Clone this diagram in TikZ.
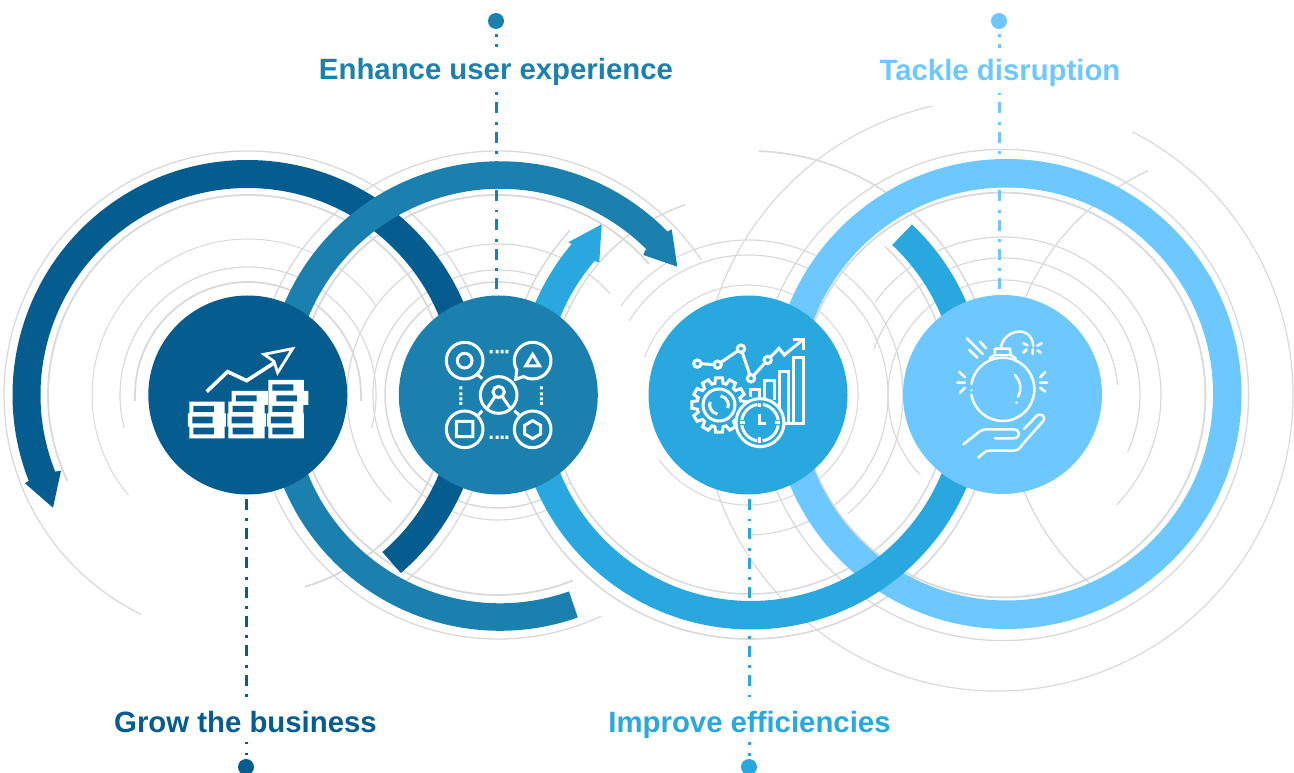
\documentclass[tikz,border=0pt]{standalone}
\usepackage{fontspec}
\setmainfont{Liberation Sans}
\definecolor{cA}{HTML}{055C8E}
\definecolor{cB}{HTML}{1B80AD}
\definecolor{cC}{HTML}{29A8E0}
\definecolor{cD}{HTML}{6CC8FF}
\definecolor{gr}{HTML}{D9D9D9}
\pgfdeclarelayer{arcsl}\pgfdeclarelayer{linesl}\pgfdeclarelayer{ringsl}
\pgfsetlayers{arcsl,linesl,ringsl,main}
\tikzset{
 hub/.style={circle,inner sep=0pt,minimum size=199pt,fill=#1},
 knob/.style={circle,inner sep=0pt,minimum size=16pt,fill=#1},
 lab/.style={anchor=base,inner sep=0pt,fill=white,text=#1,font=\fontsize{29.35}{30}\selectfont\bfseries,text height=33pt,text depth=10pt},
 stem/.style={draw=#1,line width=3pt,dash pattern=on 11pt off 8.5pt on 2.8pt off 7pt},
 ic/.style={draw=white,line width=3pt,line join=miter},
 icr/.style={draw=white,line width=2.5pt,line cap=round,line join=round},
}
\newcommand{\gra}[6][1]{\draw[gr,line width=#1pt] ({#2+#4*cos(#5)},{772-#3+#4*sin(#5)}) arc[start angle=#5,end angle=#6,radius=#4pt];}
\newcommand{\ringarc}[7]{\draw[#1,line width=#7pt] ({#2+#4*cos(#5)},{772-#3+#4*sin(#5)}) arc[start angle=#5,end angle=#6,radius=#4pt];}
\begin{document}
\begin{tikzpicture}[x=1pt,y=1pt]
\useasboundingbox (0,0) rectangle (1294,772);
% hubs, knobs, labels
\node[hub=cA] (n1) at (247.8,377) {};
\node[hub=cB] (n2) at (498.3,377) {};
\node[hub=cC] (n3) at (748,377) {};
\node[hub=cD] (n4) at (1002.5,377.5) {};
\node[knob=cB] (d2) at (496,751) {};
\node[knob=cD] (d4) at (999,751) {};
\node[knob=cA] (d1) at (246,5) {};
\node[knob=cC] (d3) at (749,5) {};
\node[lab=cB] (t2) at (496,692) {Enhance user experience};
\node[lab=cD] (t4) at (1000,691) {Tackle disruption};
\node[lab=cA] (t1) at (245.5,40) {Grow the business};
\node[lab=cC] (t3) at (749.5,40) {Improve efficiencies};
% grey arcs
\begin{pgfonlayer}{arcsl}
\gra[1.3]{248}{395}{244}{-52}{244}
\gra[1.8]{248}{395}{200}{-73.5}{205.5}
\gra[1]{248}{395}{156}{35}{220}
\gra[1.2]{248}{395}{128}{-15}{195}
\gra[1.8]{248}{395}{113}{-3}{183}
\gra[1.3]{498}{395}{244}{33.7}{295}
\gra[1.8]{498}{395}{200}{41}{292}
\gra[1.2]{498}{395}{151}{42}{225}
\gra[1.2]{498}{395}{125}{72}{295}
\gra[1.5]{498}{395}{113}{50}{310}
\gra[1.6]{750}{395}{244}{88}{-222.4}
\gra[1.5]{750}{394}{200}{47.6}{-251}
\gra[1.2]{748}{395}{155}{145}{-50}
\gra[1.2]{748}{395}{140}{148}{-90}
\gra[1.1]{748}{395}{110}{160}{-144}
\gra[1.3]{1003}{395}{245.6}{0}{360}
\gra[1.8]{1003}{395}{202.4}{0}{360}
\gra[1.2]{1003}{395}{158}{144}{-44}
\gra[1.2]{1003}{395}{137}{160.6}{-24.5}
\gra[1.2]{1003}{395}{115}{224}{5}
\gra[1.2]{997}{395}{296}{62.8}{-257.4}
\gra[1.3]{1254}{396}{249}{115.2}{229.4}
\end{pgfonlayer}
% stems
\begin{pgfonlayer}{linesl}
\draw[stem=cB,dash phase=6.6pt] (d2.center) -- (d2 |- n2.north);
\draw[stem=cD,dash phase=6.4pt] (d4.center) -- (d4 |- n4.north);
\draw[stem=cA,dash phase=25.3pt] (d1 |- n1.south) -- (d1.center);
\draw[stem=cC,dash phase=24.8pt] (d3 |- n3.south) -- (d3.center);
\end{pgfonlayer}
% thick rings
\begin{pgfonlayer}{ringsl}
\draw[cD,line width=28.5pt] (1006.5,378) circle[radius=220.75pt];
\ringarc{cC}{751}{395}{220.25}{46.7}{-221.1}{28.5}
\fill[cC] (568.3,529.7) -- (601.7,547.7) -- (599.3,509.7) -- (594,511) -- (572,528) -- cycle;
\ringarc{cA}{247.5}{395}{221}{-49.3}{202}{28}
\fill[cA] (25,288.7) -- (29,291.3) -- (55,300.3) -- (61,301.3) -- (53,264.3) -- cycle;
\ringarc{cB}{500}{396}{221}{-70.6}{-315.8}{27.5}
\fill[cB] (671.7,542.7) -- (667.3,540.3) -- (645,521.3) -- (643.3,517) -- (677.3,505.3) -- cycle;
\end{pgfonlayer}
% icon 1
\begin{scope}[shift={(140,482)},x=0.3333pt,y=-0.3333pt]
\fill[white] (148,335) rectangle (254,370) (144,370) rectangle (258,410) (148,410) rectangle (254,445);
\fill[white] (265,335) rectangle (374,370) (262,370) rectangle (378,410) (265,410) rectangle (374,445) (275,303) rectangle (384,345);
\fill[white] (385,270) rectangle (492,303) (385,303) rectangle (505,345) (385,345) rectangle (490,370) (381,370) rectangle (492,410) (385,410) rectangle (492,445);
\fill[cA] (160,348) rectangle (222,366) (157,380) rectangle (218,400) (160,413) rectangle (222,433);
\fill[cA] (288,316) rectangle (350,334) (278,348) rectangle (340,366) (275,380) rectangle (337,400) (278,413) rectangle (340,433);
\fill[cA] (397,283) rectangle (460,302) (409,316) rectangle (471,334) (397,348) rectangle (460,366) (393,380) rectangle (455,400) (397,413) rectangle (460,433);
\draw[white,line width=3.6pt] (200,305) -- (263,245) -- (320,272) -- (410,214);
\draw[white,line width=2.8pt,fill=cA] (458,176) -- (372,193) -- (402,214) -- (413,248) -- cycle;
\end{scope}
% icon 2
\begin{scope}[shift={(395,482)},x=0.3333pt,y=-0.3333pt]
\draw[ic] (209,212) circle[radius=55] (209,212) circle[radius=22];
\draw[ic] (209,418) circle[radius=55] (184,394) rectangle (234,440);
\draw[ic] (413,418) circle[radius=55] (413,392) -- (437,406) -- (437,432) -- (413,446) -- (389,432) -- (389,406) -- cycle;
\draw[ic] ({413+55*cos(150)},{212+55*sin(150)}) arc[start angle=150,end angle=480,radius=55] -- (362,268) -- cycle;
\draw[ic] (392,228) -- (434,228) -- (413,193) -- cycle;
\draw[ic] (311,315) circle[radius=55];
\draw[ic] (311,306) circle[radius=17] (300,320) -- (277,354) (322,320) -- (345,354);
\draw[ic] (245,252) -- (262,266) (250,375) -- (262,362) (358,362) -- (372,375);
\fill[white] \foreach \u in {284,302,317,331} {(\u,180) rectangle ++(9,10) (\u,437) rectangle ++(9,10)};
\fill[white] \foreach \v in {289,307,322,336} {(193,\v) rectangle ++(9,9) (435,\v) rectangle ++(9,9)};
\end{scope}
% icon 3
\begin{scope}[shift={(645,482)},x=0.3333pt,y=-0.3333pt]
\draw[ic] (157,221) -- (218,224) -- (288,176) -- (318,265) -- (368,210) -- (402,175) -- (418,195) -- (470,152);
\draw[ic] (445,150) -- (475,150) -- (475,180);
\foreach \p in {(157,221),(218,224),(288,176),(318,265),(368,210)} \draw[ic,fill=cC] \p circle[radius=11];
\draw[ic] (318,320) -- (318,298) -- (345,298) -- (345,320);
\draw[ic] (360,325) -- (360,272) -- (390,272) -- (390,330);
\draw[ic] (405,395) -- (405,245) -- (432,245) -- (432,400);
\draw[ic] (420,400) -- (475,400) -- (475,203) -- (447,203) -- (447,400);
\draw[ic] ({222+66*cos(-11)},{345+66*sin(-11)}) \foreach \k in {0,...,11} { -- ({222+82*cos(\k*30-7)},{345+82*sin(\k*30-7)}) -- ({222+82*cos(\k*30+7)},{345+82*sin(\k*30+7)}) -- ({222+66*cos(\k*30+11)},{345+66*sin(\k*30+11)}) -- ({222+66*cos(\k*30+19)},{345+66*sin(\k*30+19)}) } -- cycle;
\draw[ic] (222,345) circle[radius=48];
\draw[ic] ({222+28*cos(100)},{345+28*sin(100)}) arc[start angle=100,end angle=200,radius=28];
\draw[ic] ({222+28*cos(280)},{345+28*sin(280)}) arc[start angle=280,end angle=380,radius=28];
\draw[ic,fill=cC] (345,398) circle[radius=72];
\draw[ic,dash pattern=on 23.5pt off 5.3pt,dash phase=26.15pt] (345,398) circle[radius=55];
\draw[ic] (345,372) -- (345,402) -- (364,402);
\draw[ic] (345,338) -- (345,352) (345,442) -- (345,458) (286,398) -- (300,398) (390,398) -- (404,398);
\end{scope}
% icon 4
\begin{scope}[shift={(900,482)},x=0.3333pt,y=-0.3333pt]
\draw[icr] ({308+95*cos(190)},{298+95*sin(190)}) arc[start angle=190,end angle=530,radius=95];
\fill[white] (214,301) circle[radius=3.5];
\draw[icr] (270,212) -- (270,204) -- (285,195) -- (285,176) -- (330,176) -- (332,195) -- (346,204) -- (346,212);
\draw[icr] (285,195) -- (332,195);
\draw[icr] (345,255) .. controls (365,280) and (365,300) .. (354,320);
\fill[white] (350,338) circle[radius=4];
\draw[icr] (303,176) .. controls (305,120) and (395,100) .. (400,168);
\draw[icr] (370,160) -- (383,166) (425,160) -- (412,167) (380,178) -- (370,188) (398,178) -- (398,192) (412,181) -- (422,188);
\draw[icr] (201,145) -- (248,192) (240,155) -- (258,175) (208,180) -- (232,203);
\draw[icr] (178,246) -- (195,262) (172,278) -- (195,278) (180,308) -- (195,293);
\draw[icr] (436,246) -- (420,262) (442,278) -- (420,278) (436,305) -- (420,293);
\draw[icr] (190,463) -- (232,430) .. controls (242,421) and (250,418) .. (265,418) -- (338,418) .. controls (365,418) and (362,445) .. (340,445) -- (285,445);
\draw[icr] (235,503) -- (250,490) .. controls (257,483) and (262,482) .. (270,482) -- (340,482) .. controls (358,482) and (362,470) .. (372,458) -- (428,395) .. controls (442,380) and (420,365) .. (408,380) -- (372,417);
\end{scope}
\end{tikzpicture}
\end{document}
